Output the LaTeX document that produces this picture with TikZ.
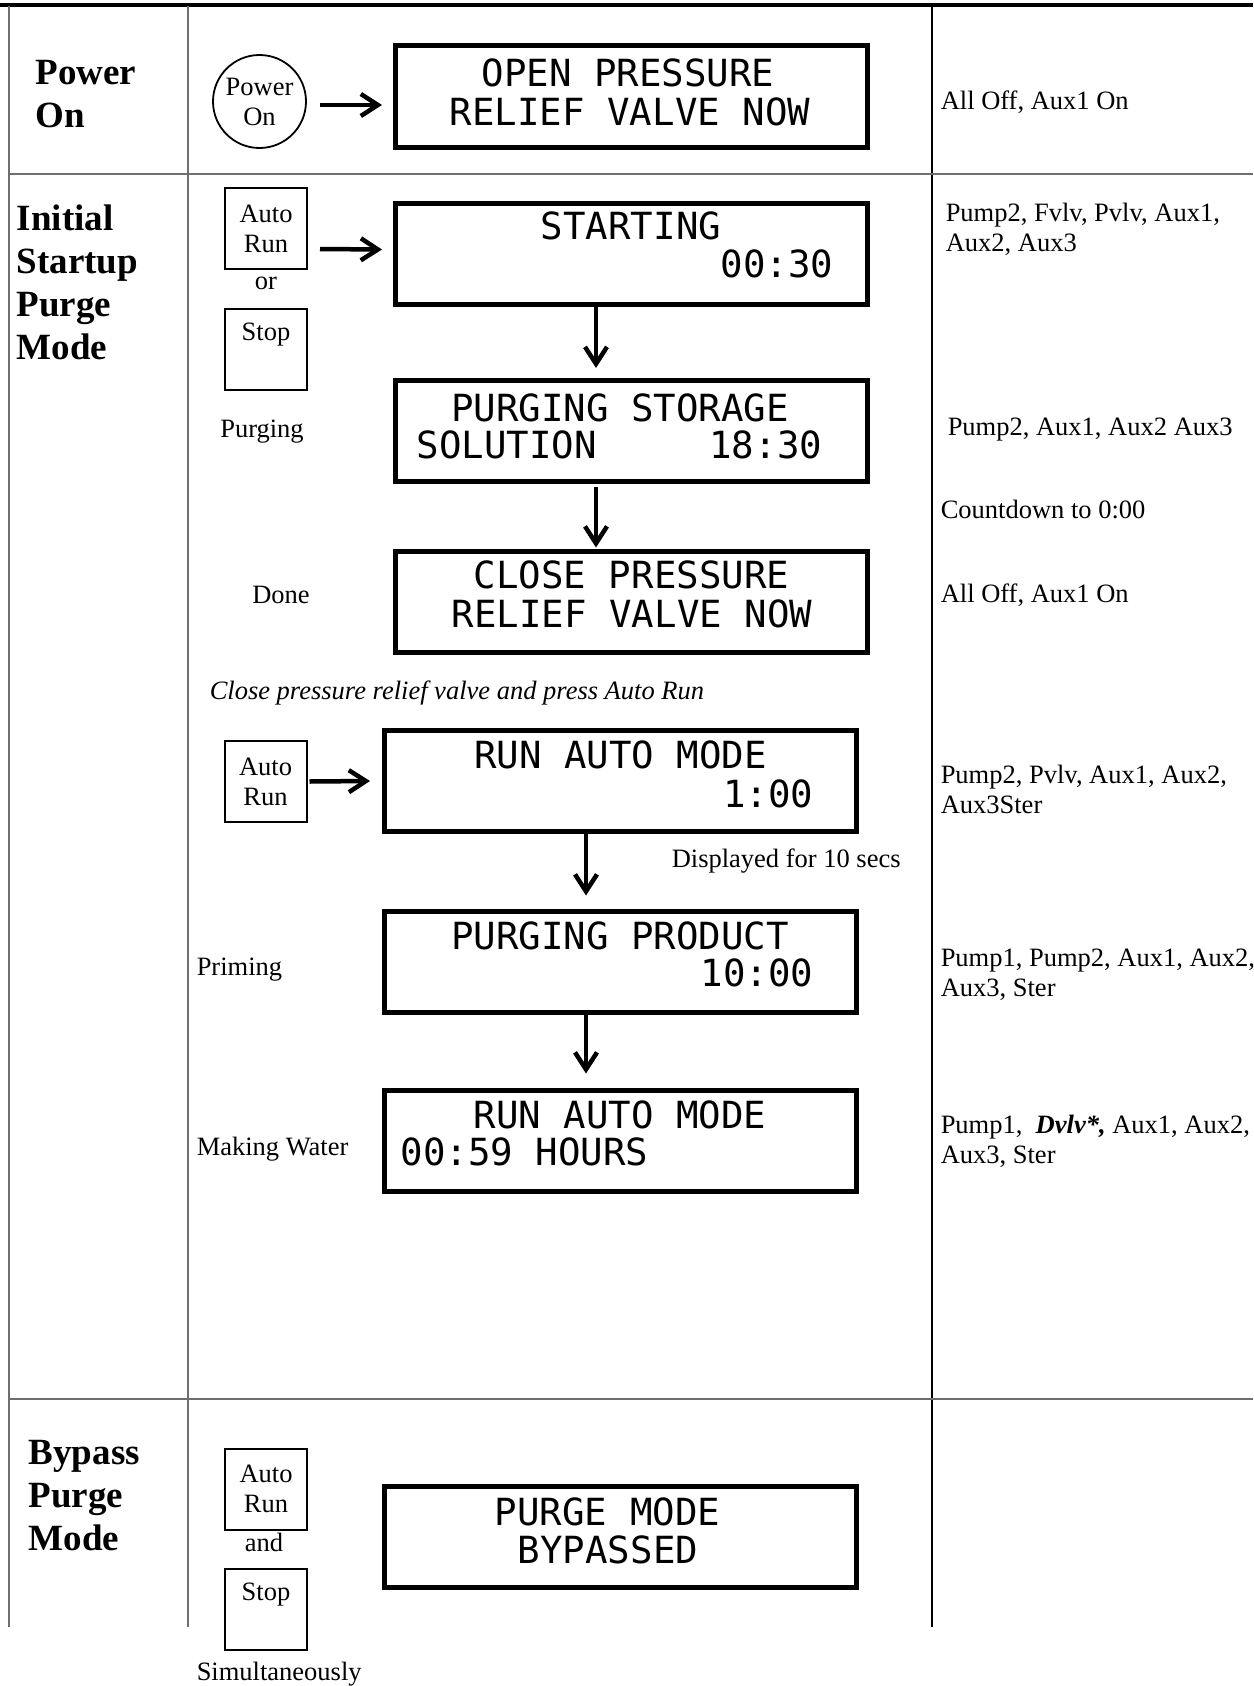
\documentclass[tikz,border=0pt]{standalone}
\usepackage{fontspec}
\setmainfont{Liberation Serif}
\newfontfamily\lcdfont{DejaVu Sans Mono}
\usetikzlibrary{arrows.meta}
\definecolor{grid}{HTML}{6E6E6E}

\begin{document}
\begin{tikzpicture}[x=1pt,y=-1pt,line width=1.5pt,
  flow/.style={line width=4.5pt,-{Straight Barb[length=17pt,width=22pt]}},
  lcd/.style={draw,line width=5pt,minimum width=472pt,minimum height=101pt,inner sep=0},
  lcdtext/.style={font=\lcdfont\fontsize{37.4}{40}\selectfont,inner sep=0},
  key/.style={draw,line width=2pt,minimum width=82pt,minimum height=81pt,inner sep=0},
  txt/.style={font=\fontsize{26.5}{30}\selectfont,inner sep=0},
  mode/.style={font=\fontsize{37}{43}\selectfont\bfseries,inner sep=0,align=left,anchor=north west}]
\useasboundingbox (0,0) rectangle (1253,1686);
% table rules
\draw[line width=4pt] (0,5.5)--(1253,5.5);
\draw[grid] (9,6)--(9,1627);
\draw[grid] (188,6)--(188,1627);
\draw[line width=2.5pt] (932,6)--(932,1627);
\draw[grid] (9,174)--(1253,174);
\draw[grid] (9,1399)--(1253,1399);
% mode column
\node[mode] (m1) at (35,60) {Power\\On};
\node[mode] (m2) at (16,204) {Initial\\Startup\\Purge\\Mode};
\node[mode] (m3) at (28,1440) {Bypass\\Purge\\Mode};
% power on
\node[draw,circle,minimum size=93pt,line width=1.8pt,txt,align=center] (pwr) at (259.5,101.5) {Power\\On};
\node[lcd] (lcd1) at (631.5,96.5) {};
\node[lcdtext,anchor=base] (l1a) at (628,86) {OPEN PRESSURE};
\node[lcdtext,anchor=base] (l1b) at (630,125) {RELIEF VALVE NOW};
\draw[flow] ([xshift=13pt,yshift=-3.5pt]pwr.east) -- ([xshift=-11pt,yshift=-8.5pt]lcd1.west);
\node[txt,anchor=base west] (r1) at (940,109) {All Off, Aux1 On};
% startup purge
\node[key,txt,align=center] (key1) at (266,228.5) {Auto\\Run};
\node[txt,anchor=base] (or1) at (266,289) {or};
\node[key] (key2) at (266,349) {};
\node[txt,anchor=base] (stop1) at (266,340) {Stop};
\node[lcd] (lcd2) at (631.5,253.5) {};
\node[lcdtext,anchor=base] (l2a) at (631,239) {STARTING};
\node[lcdtext,anchor=base west] (l2b) at (720,277) {00:30};
\draw[flow] ([xshift=12pt,yshift=-20.5pt]key1.east) -- ([xshift=-11pt,yshift=4pt]lcd2.west);
\node[txt,anchor=north west,align=left] (r2) at (945,202) {Pump2, Fvlv, Pvlv, Aux1,\\Aux2, Aux3};

\node[txt,anchor=base] (purging) at (262,437) {Purging};
\node[lcd] (lcd3) at (631.5,431) {};
\node[lcdtext,anchor=base] (l3a) at (620,421) {PURGING STORAGE};
\node[lcdtext,anchor=base west] (l3b) at (416,458) {SOLUTION\ \ \ \ \ 18:30};
\draw[flow] ([xshift=-35.5pt]lcd2.south) -- ([xshift=-35.5pt,yshift=10pt]lcd3.north);
\node[txt,anchor=base west] (r3) at (947,435) {Pump2, Aux1, Aux2 Aux3};
\node[txt,anchor=base west] (r4) at (940,518) {Countdown to 0:00};

\node[txt,anchor=base] (done) at (281,603) {Done};
\node[lcd] (lcd4) at (631.5,601.5) {};
\node[lcdtext,anchor=base] (l4a) at (631.5,588) {CLOSE PRESSURE};
\node[lcdtext,anchor=base] (l4b) at (632,627) {RELIEF VALVE NOW};
\draw[flow] ([xshift=-35.5pt,yshift=-3pt]lcd3.south) -- ([xshift=-35.5pt,yshift=1pt]lcd4.north);
\node[txt,anchor=base west] (r5) at (940,602) {All Off, Aux1 On};

\node[txt,anchor=base west,font=\fontsize{26.5}{30}\selectfont\itshape] (hint) at (209,699) {Close pressure relief valve and press Auto Run};
% auto run
\node[key,txt,align=center] (key3) at (265.5,781.5) {Auto\\Run};
\node[lcd] (lcd5) at (620.5,781) {};
\node[lcdtext,anchor=base] (l5a) at (620.5,768) {RUN AUTO MODE};
\node[lcdtext,anchor=base east] (l5b) at (814,807) {1:00};
\draw[flow] ([xshift=2pt]key3.east) -- ([xshift=-12pt]lcd5.west);
\node[txt,anchor=base west] (disp) at (671,867) {Displayed for 10 secs};
\node[txt,anchor=north west,align=left] (r6) at (940,764) {Pump2, Pvlv, Aux1, Aux2,\\Aux3Ster};

\node[txt,anchor=base west] (priming) at (196,975) {Priming};
\node[lcd] (lcd6) at (620.5,961.5) {};
\node[lcdtext,anchor=base] (l6a) at (620,949) {PURGING PRODUCT};
\node[lcdtext,anchor=base east] (l6b) at (814,986) {10:00};
\draw[flow] ([xshift=-34.5pt]lcd5.south) -- ([xshift=-34.5pt,yshift=13pt]lcd6.north);
\node[txt,anchor=north west,align=left] (r7) at (940,948) {Pump1, Pump2, Aux1, Aux2,\\Aux3, Ster};

\node[txt,anchor=base west] (making) at (196,1155) {Making Water};
\node[lcd] (lcd7) at (620.5,1140.5) {};
\node[lcdtext,anchor=base] (l7a) at (620,1128) {RUN AUTO MODE};
\node[lcdtext,anchor=base west] (l7b) at (400,1165) {00:59 HOURS};
\draw[flow] ([xshift=-34.5pt]lcd6.south) -- ([xshift=-34.5pt,yshift=14pt]lcd7.north);
\node[txt,anchor=north west,align=left] (r8) at (940,1114) {Pump1,~~\textbf{\textit{Dvlv*,}} Aux1, Aux2,\\Aux3, Ster};
% bypass
\node[key,txt,align=center] (key4) at (266,1489) {Auto\\Run};
\node[txt,anchor=base] (and1) at (264,1551) {and};
\node[key] (key5) at (266,1609.5) {};
\node[txt,anchor=base] (stop2) at (266,1600) {Stop};
\node[txt,anchor=base west] (simul) at (196,1680) {Simultaneously};
\node[lcd] (lcd8) at (620.5,1536.5) {};
\node[lcdtext,anchor=base] (l8a) at (607.5,1525) {PURGE MODE};
\node[lcdtext,anchor=base] (l8b) at (608,1563) {BYPASSED};
\end{tikzpicture}
\end{document}
